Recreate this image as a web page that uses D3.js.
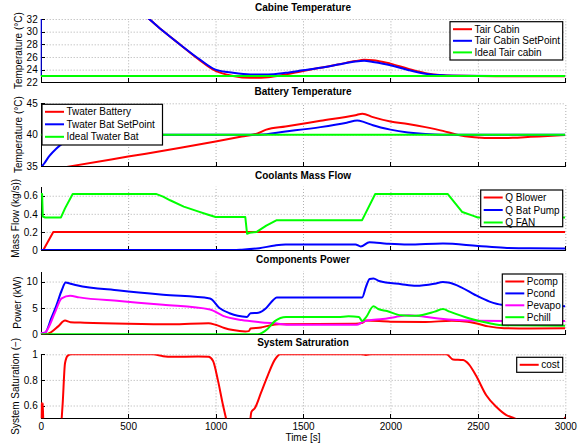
<!DOCTYPE html>
<html lang="en">
<head>
<meta charset="UTF-8" />
<title>HVAC simulation</title>
<script src="https://d3js.org/d3.v7.min.js"></script>
<style>
  body { margin: 0; background: #fff; }
  svg { font-family: "Liberation Sans", Helvetica, Arial, sans-serif; }
  .axis text { font-size: 10px; fill: #000; }
  .axis path, .axis line { stroke: #000; stroke-width: 1; shape-rendering: crispEdges; }
  .grid line { stroke: #9a9a9a; stroke-width: 0.8; stroke-dasharray: 1,2; }
  .grid path { display: none; }
  .title { font-size: 10px; font-weight: bold; text-anchor: middle; }
  .ylabel, .xlabel { font-size: 10px; text-anchor: middle; }
  .legend rect { fill: #fff; stroke: #000; stroke-width: 1.2; }
  .legend text { font-size: 10px; }
  .series { fill: none; stroke-width: 2; stroke-linejoin: round; }
</style>
</head>
<body>
<script>
// time axis
var timeTicks = [0, 500, 1000, 1500, 2000, 2500, 3000];

// Cabine Temperature [t, degC]
var tairCabin = [[0,50],[400,38],[560,33.4],[620,32],[700,30.1],[800,27.9],[900,25.7],[1000,23.8],[1100,23.0],
  [1200,22.7],[1300,22.8],[1400,23.25],[1500,23.8],[1600,24.3],[1700,24.8],[1800,25.35],[1850,25.55],[1900,25.5],
  [2000,24.95],[2100,24.15],[2200,23.45],[2300,23.12],[2400,23.02],[2600,22.95],[3000,22.95]];
var tairSetPoint = [[0,23],[3,50],[400,38],[560,33.4],[620,32],[700,30.1],[800,27.9],[900,25.8],[1000,24.0],[1100,23.5],
  [1200,23.25],[1300,23.25],[1400,23.5],[1500,23.9],[1600,24.3],[1700,24.8],[1800,25.3],[1850,25.4],[1900,25.2],
  [2000,24.7],[2100,23.95],[2200,23.35],[2300,23.1],[2400,23.03],[2600,23.0],[3000,23.0]];
var tairIdeal = [[0,23],[3000,23]];

// Battery Temperature [t, degC]
var twaterBattery = [[0,34.1],[200,35.1],[500,36.5],[800,37.9],[1000,38.9],[1150,39.7],[1240,40.2],[1290,40.8],
  [1400,41.3],[1600,42.2],[1800,43.1],[1840,43.35],[1900,42.8],[2000,42.1],[2100,41.7],[2200,41.2],[2300,40.6],
  [2380,40.0],[2480,39.6],[2600,39.45],[2700,39.5],[2800,39.65],[2900,39.8],[3000,39.95]];
var twaterSetPoint = [[0,34.7],[20,35.4],[50,36.6],[90,37.8],[130,38.7],[170,39.3],[220,39.7],[300,39.95],[400,40],
  [1250,40],[1400,40.5],[1600,41.2],[1750,41.9],[1810,42.25],[1850,42.0],[1900,41.5],[2000,40.8],[2100,40.35],
  [2200,40.1],[2300,40.0],[3000,40]];
var twaterIdeal = [[0,40],[3000,40]];

// Coolants Mass Flow [t, kg/s]
var qBlower = [[0,0],[15,0],[72,0.2],[3000,0.2]];
var qBatPump = [[0,0],[1100,0],[1150,0.004],[1250,0.02],[1340,0.05],[1400,0.06],[1800,0.062],[1830,0.04],
  [1880,0.085],[1980,0.07],[2100,0.06],[2300,0.072],[2500,0.045],[2650,0.025],[2800,0.018],[3000,0.017]];
var qFan = [[0,0.62],[8,0.62],[12,0.37],[25,0.36],[116,0.36],[139,0.46],[183,0.62],[659,0.62],[700,0.59],
  [740,0.55],[818,0.48],[895,0.43],[958,0.39],[1000,0.365],[1170,0.365],[1180,0.18],[1195,0.19],[1235,0.2],
  [1290,0.27],[1350,0.33],[1838,0.33],[1913,0.62],[2327,0.62],[2411,0.42],[2470,0.38],[2500,0.36],[3000,0.36]];

// Components Power [t, kW]
var pComp = [[0,0],[30,0],[60,0.4],[100,1.5],[139,2.6],[170,2.3],[250,2.2],[500,2.0],[750,1.9],[960,2.1],
  [1000,1.8],[1050,1.2],[1100,0.8],[1170,0.55],[1190,0.6],[1200,1.1],[1260,1.3],[1300,1.6],[1360,1.9],[1800,2.0],
  [1840,2.2],[1860,2.6],[2000,2.4],[2200,2.35],[2350,2.55],[2440,2.4],[2500,2.0],[2560,1.5],[2650,1.15],[2800,1.1],
  [3000,1.15]];
var pCond = [[0,0.2],[25,0.3],[60,3],[90,5.5],[120,8.3],[143,9.8],[170,9.6],[206,9.3],[450,8.3],[700,7.5],
  [968,6.8],[1022,5.0],[1080,4.0],[1127,3.5],[1180,3.3],[1200,4.0],[1245,4.1],[1290,5.0],[1330,6.5],[1350,7.0],
  [1838,7.0],[1860,9.0],[1881,10.5],[1903,10.6],[1935,10.1],[2062,9.5],[2147,9.2],[2253,9.6],[2300,9.9],
  [2330,9.8],[2405,8.9],[2482,7.5],[2567,6.2],[2636,5.6],[2750,5.4],[3000,5.3]];
var pEvapo = [[0,0.3],[20,0.2],[40,1],[80,4.0],[120,6.8],[168,7.3],[220,7.0],[450,6.3],[700,5.6],[968,4.7],
  [1043,3.5],[1149,2.7],[1254,2.3],[1360,2.0],[1424,1.8],[1807,1.8],[1840,2.3],[1870,2.6],[1956,2.9],[2030,3.3],
  [2104,3.6],[2150,3.5],[2274,3.0],[2380,2.7],[2500,2.55],[3000,2.5]];
var pChill = [[0,0],[1240,0],[1297,1],[1339,2.5],[1403,3.3],[1700,3.3],[1760,3.4],[1820,3.3],[1838,2.5],
  [1860,3.2],[1903,5.3],[1930,4.8],[1980,4.4],[2062,3.6],[2147,3.5],[2253,4.3],[2300,4.8],[2339,4.3],[2453,3.0],
  [2567,2.1],[2653,1.7],[3000,1.6]];

// System Satruration [t, -]
var cost = [[0,0.4],[4,0.62],[8,0.45],[12,0.62],[16,0.4],[112,0.4],[125,0.6],[139,0.93],[155,0.99],[175,1.0],
  [640,1.0],[700,0.985],[750,0.98],[900,0.982],[960,0.98],[985,0.95],[1013,0.8],[1043,0.6],[1070,0.45],[1090,0.4],
  [1190,0.4],[1205,0.55],[1225,0.58],[1260,0.7],[1300,0.84],[1340,0.96],[1370,1.0],[1830,1.0],[1860,0.995],
  [1890,1.0],[2320,1.0],[2358,0.96],[2415,0.955],[2450,0.92],[2491,0.83],[2548,0.68],[2605,0.59],[2663,0.525],
  [2710,0.5],[2750,0.47],[2950,0.45],[2990,0.48],[3000,0.51]];

var panels = [
  { title: "Cabine Temperature", ylabel: "Temperature (°C)", domain: [22, 32], ticks: [22, 24, 26, 28, 30, 32],
    labelX: 18.3, top: 19, h: 63.3,
    series: [
      { name: "Tair Cabin", data: tairCabin, color: "#ff0000" },
      { name: "Tair Cabin SetPoint", data: tairSetPoint, color: "#0000ff" },
      { name: "Ideal Tair cabin", data: tairIdeal, color: "#00ff00" }],
    legend: { x: 450, y: 21.7, w: 112.7, h: 38.3, step: 11.6 } },
  { title: "Battery Temperature", ylabel: "Temperature (°C)", domain: [35, 45], ticks: [35, 40, 45],
    labelX: 18.3, top: 103.3, h: 62.7,
    series: [
      { name: "Twater Battery", data: twaterBattery, color: "#ff0000" },
      { name: "Twater Bat SetPoint", data: twaterSetPoint, color: "#0000ff" },
      { name: "Ideal Twater Bat", data: twaterIdeal, color: "#00ff00" }],
    legend: { x: 42, y: 104.3, w: 120.5, h: 40.7, step: 12.5 } },
  { title: "Coolants Mass Flow", ylabel: "Mass Flow (kg/s))", domain: [0, 0.7], ticks: [0, 0.2, 0.4, 0.6],
    labelX: 15.5, top: 186.7, h: 63.3,
    series: [
      { name: "Q Blower", data: qBlower, color: "#ff0000", linear: true },
      { name: "Q Bat Pump", data: qBatPump, color: "#0000ff" },
      { name: "Q FAN", data: qFan, color: "#00ff00", linear: true }],
    legend: { x: 480.7, y: 190, w: 82, h: 36.7, step: 12.5 } },
  { title: "Components Power", ylabel: "Power (kW)", domain: [0, 12], ticks: [0, 5, 10],
    labelX: 17, top: 271, h: 63.3,
    series: [
      { name: "Pcomp", data: pComp, color: "#ff0000" },
      { name: "Pcond", data: pCond, color: "#0000ff" },
      { name: "Pevapo", data: pEvapo, color: "#ff00ff" },
      { name: "Pchill", data: pChill, color: "#00ff00" }],
    legend: { x: 502.3, y: 274, w: 60.4, h: 51, step: 11.9 } },
  { title: "System Satruration", ylabel: "System Saturation (−)", domain: [0.5, 1], ticks: [0.6, 0.8, 1],
    labelX: 15, top: 354.3, h: 64,
    series: [
      { name: "cost", data: cost, color: "#ff0000" }],
    legend: { x: 516.7, y: 357.3, w: 46, h: 15, step: 12 } }
];

var left = 40.7, plotW = 524.6;
var svg = d3.select("body").append("svg").attr("width", 580).attr("height", 446);

var x = d3.scaleLinear().domain([0, 3000]).range([0, plotW]);

panels.forEach(function (p, i) {
  var y = d3.scaleLinear().domain(p.domain).range([p.h, 0]);
  var g = svg.append("g").attr("transform", "translate(" + left + "," + p.top + ")");

  // clip
  svg.append("clipPath").attr("id", "clip" + i)
    .append("rect").attr("width", plotW).attr("height", p.h);

  // dotted grid
  g.append("g").attr("class", "grid")
    .call(d3.axisLeft(y).tickValues(p.ticks.filter(function (v) { return v !== p.domain[0]; }))
      .tickSize(-plotW).tickFormat(""));
  g.append("g").attr("class", "grid")
    .attr("transform", "translate(0," + p.h + ")")
    .call(d3.axisBottom(x).tickValues(timeTicks.slice(1)).tickSize(-p.h).tickFormat(""));

  // axes
  g.append("g").attr("class", "axis")
    .call(d3.axisLeft(y).tickValues(p.ticks).tickSizeInner(-4).tickSizeOuter(0).tickPadding(3)
      .tickFormat(d3.format("")));
  var xa = d3.axisBottom(x).tickValues(timeTicks).tickSizeInner(-4).tickSizeOuter(0).tickPadding(5)
    .tickFormat(i < panels.length - 1 ? "" : d3.format("d"));
  g.append("g").attr("class", "axis").attr("transform", "translate(0," + p.h + ")").call(xa);

  // lines
  var plot = g.append("g").attr("clip-path", "url(#clip" + i + ")");
  p.series.forEach(function (s) {
    var line = d3.line()
      .x(function (d) { return x(d[0]); })
      .y(function (d) { return y(d[1]); })
      .curve(s.linear ? d3.curveLinear : d3.curveMonotoneX);
    plot.append("path").attr("class", "series").attr("stroke", s.color).attr("d", line(s.data));
  });

  // title and y label
  svg.append("text").attr("class", "title").attr("x", left + plotW / 2).attr("y", p.top - 8).text(p.title);
  svg.append("text").attr("class", "ylabel")
    .attr("transform", "translate(" + p.labelX + "," + (p.top + p.h / 2) + ") rotate(-90)")
    .attr("dy", "0.35em").text(p.ylabel);

  // legend
  var L = p.legend;
  var lg = svg.append("g").attr("class", "legend").attr("transform", "translate(" + L.x + "," + L.y + ")");
  lg.append("rect").attr("width", L.w).attr("height", L.h);
  p.series.forEach(function (s, k) {
    var ry = 7.5 + k * L.step;
    lg.append("line").attr("x1", 3).attr("x2", 22).attr("y1", ry).attr("y2", ry)
      .attr("stroke", s.color).attr("stroke-width", 2);
    lg.append("text").attr("x", 24.5).attr("y", ry).attr("dy", "0.35em").text(s.name);
  });
});

svg.append("text").attr("class", "xlabel").attr("x", left + plotW / 2).attr("y", 440.5).text("Time [s]");
</script>
</body>
</html>
